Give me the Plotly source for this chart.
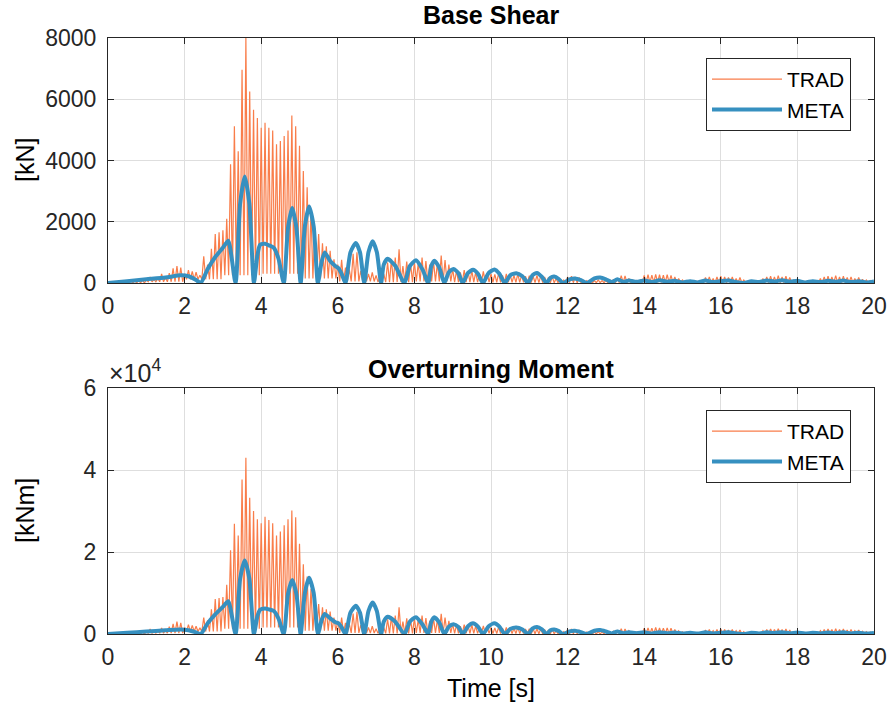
import plotly.graph_objects as go

# ---------------- DATA ----------------
# TRAD: peak values every 0.1 s (t = 0.0 ... 19.9)
bs_trad_peaks = [
    0, 20, 30, 40, 50, 60, 70, 80, 90, 100,
    100, 200, 120, 150, 300, 180, 320, 480, 550, 500,
    300, 420, 380, 350, 250, 870, 600, 1120, 1600, 1660,
    1720, 2100, 3880, 5120, 4300, 6960, 8000, 6250, 5660, 5390,
    5070, 5230, 5070, 4980, 4530, 4640, 4800, 4980, 5470, 5120,
    4480, 3660, 3130, 2400, 1800, 1600, 1300, 1200, 1050, 770,
    600, 760, 500, 450, 950, 1000, 400, 300, 300, 350,
    250, 200, 300, 670, 780, 830, 1100, 550, 700, 650,
    700, 650, 830, 720, 600, 700, 650, 900, 750, 600,
    450, 400, 350, 420, 380, 400, 350, 300, 380, 320,
    300, 280, 320, 250, 300, 280, 250, 300, 260, 220,
    240, 220, 250, 230, 200, 180, 200, 150, 120, 100,
    200, 220, 200, 180, 100, 80, 60, 80, 100, 80,
    80, 100, 120, 150, 240, 230, 150, 100, 80, 100,
    250, 270, 260, 280, 270, 260, 270, 250, 200, 150,
    100, 80, 60, 50, 60, 80, 180, 200, 150, 200,
    220, 200, 180, 200, 150, 180, 100, 60, 50, 40,
    60, 150, 200, 220, 200, 240, 200, 220, 180, 100,
    60, 40, 30, 30, 40, 50, 150, 200, 220, 200,
    240, 200, 220, 180, 200, 150, 180, 120, 100, 80,
]
# TRAD trough level for each second (0..19 s)
bs_trad_troughs = [0, 40, 120, 250, 300, 150, 50, 30, 50, 30,
                   20, 10, 10, 10, 20, 10, 10, 10, 10, 10]

om_trad_peaks = [
    0, 100, 150, 200, 250, 300, 350, 400, 450, 500,
    500, 1200, 600, 800, 1500, 1000, 1800, 2500, 3000, 2700,
    1600, 2300, 2100, 1900, 1500, 4000, 3300, 6000, 8500, 8800,
    9000, 12000, 20400, 26900, 24000, 37700, 43000, 33200, 30000, 28000,
    27000, 28600, 27800, 27000, 24000, 25000, 26500, 28000, 30100, 28500,
    22000, 17000, 14000, 11000, 8000, 7300, 6500, 6000, 5500, 4000,
    3200, 4000, 2700, 2500, 5000, 5400, 2200, 1600, 1600, 1900,
    1300, 1100, 1600, 3600, 4200, 4500, 6500, 3000, 3800, 3500,
    3800, 3500, 4500, 3900, 3200, 3800, 3500, 4900, 4000, 3200,
    2400, 2200, 1900, 2300, 2000, 2200, 1900, 1600, 2000, 1700,
    1600, 1500, 1700, 1400, 1600, 1500, 1400, 1600, 1400, 1200,
    1300, 1200, 1300, 1200, 1100, 1000, 1100, 800, 650, 550,
    1100, 1200, 1100, 1000, 550, 450, 330, 450, 550, 450,
    450, 550, 650, 800, 1300, 1250, 800, 550, 450, 550,
    1400, 1500, 1400, 1600, 1500, 1400, 1500, 1400, 1100, 800,
    550, 450, 330, 280, 330, 450, 1000, 1100, 800, 1100,
    1200, 1100, 1000, 1100, 800, 1000, 550, 330, 280, 220,
    330, 800, 1100, 1200, 1100, 1300, 1100, 1200, 1000, 550,
    330, 220, 170, 170, 220, 280, 800, 1100, 1200, 1100,
    1300, 1100, 1200, 1000, 1100, 800, 1000, 650, 550, 450,
]
om_trad_troughs = [0, 200, 600, 1300, 1600, 800, 250, 150, 250, 150,
                   100, 50, 50, 50, 100, 50, 50, 50, 50, 50]

# META base shear (time, value)
bs_meta_t = [0.0, 0.5, 1.0, 1.5, 1.9, 2.1, 2.3, 2.42, 2.6, 2.8, 3.0, 3.14, 3.33,
             3.45, 3.57, 3.69, 3.81, 3.9, 3.97, 4.1, 4.2, 4.33, 4.45, 4.59,
             4.7, 4.81, 4.92, 5.03, 5.14, 5.25, 5.37, 5.48, 5.58, 5.66, 5.8,
             5.95, 6.02, 6.1, 6.2, 6.33, 6.47, 6.58, 6.69, 6.8, 6.91, 7.02,
             7.13, 7.2, 7.3, 7.5, 7.74, 7.88, 8.04, 8.22, 8.36, 8.44, 8.52,
             8.65, 8.78, 8.9, 9.02, 9.15, 9.26, 9.4, 9.53, 9.66, 9.79, 9.94,
             10.09, 10.22, 10.36, 10.5, 10.66, 10.82, 10.97, 11.08, 11.2,
             11.33, 11.45, 11.55, 11.65, 11.77, 11.88, 12.05, 12.19, 12.35,
             12.5, 12.7, 12.85, 13.0, 13.15, 13.3, 13.45, 13.6, 13.8, 14.0,
             14.2, 14.4, 14.6, 14.8, 15.0, 15.2, 15.4, 15.6, 15.8, 16.0,
             16.2, 16.4, 16.6, 16.8, 17.0, 17.2, 17.4, 17.6, 17.8, 18.0,
             18.2, 18.4, 18.6, 18.8, 19.0, 19.2, 19.4, 19.6, 19.8, 20.0]
bs_meta_v = [0, 60, 120, 180, 250, 220, 100, 0, 450, 850, 1150, 1380, 0,
             2600, 3480, 2600, 0, 900, 1250, 1280, 1230, 1150, 800, 0,
             1800, 2450, 1800, 0, 1850, 2500, 1850, 0, 700, 1000, 720,
             540, 480, 300, 0, 1000, 1310, 1000, 0, 1000, 1360, 1000,
             0, 600, 790, 560, 0, 550, 740, 420, 0, 550, 730,
             500, 0, 350, 460, 320, 0, 330, 430, 300, 0, 330,
             440, 300, 0, 250, 320, 220, 0, 250, 330,
             200, 0, 170, 210, 130, 0, 120, 150, 90,
             0, 150, 180, 120, 30, 120, 40, 80, 40, 80,
             30, 90, 40, 70, 20, 60, 20, 80, 30, 60,
             80, 30, 0, 60, 30, 80, 50, 90, 40, 70,
             20, 60, 30, 70, 40, 80, 30, 60, 20, 50]

# META overturning moment (time, value)
om_meta_t = bs_meta_t
om_meta_v = [0, 300, 600, 900, 1100, 900, 400, 0, 2600, 4800, 6600, 8000, 0,
             13500, 17900, 13500, 0, 4300, 5900, 6200, 6000, 5600, 3800, 0,
             9800, 13200, 9700, 0, 10000, 13700, 10000, 0, 3500, 4900, 3800,
             2800, 2600, 1600, 0, 5200, 6900, 5200, 0, 5600, 7700, 5600,
             0, 3000, 4200, 3000, 0, 3000, 4100, 2200, 0, 3000, 4100,
             2800, 0, 1800, 2400, 1700, 0, 1900, 2600, 1800, 0, 1900,
             2600, 1800, 0, 1200, 1600, 1100, 0, 1300, 1700,
             1100, 0, 900, 1100, 700, 0, 650, 800, 450,
             0, 800, 950, 600, 150, 600, 200, 400, 200, 400,
             150, 450, 200, 350, 100, 300, 100, 400, 150, 300,
             400, 150, 0, 300, 150, 400, 250, 450, 200, 350,
             100, 300, 150, 350, 200, 400, 150, 300, 100, 250]

x_ticks = [0, 2, 4, 6, 8, 10, 12, 14, 16, 18, 20]
bs_ticks = [0, 2000, 4000, 6000, 8000]
om_ticks = [0, 20000, 40000, 60000]
om_tick_text = ["0", "2", "4", "6"]


def interleave(peaks, troughs):
    t, v = [], []
    for i, p in enumerate(peaks):
        t.append(round(i * 0.1, 3))
        v.append(p)
        t.append(round(i * 0.1 + 0.05, 3))
        v.append(min(troughs[i // 10], p) if p > 0 else 0)
    return t, v


bs_t, bs_v = interleave(bs_trad_peaks, bs_trad_troughs)
om_t, om_v = interleave(om_trad_peaks, om_trad_troughs)

# ---------------- STYLE ----------------
ORANGE = "#F97D4A"
BLUE = "#3690C0"
AX = "#262626"
GRID = "#dedede"
FONT = "Liberation Sans, Arial, Helvetica, sans-serif"
W, H = 891, 711

fig = go.Figure()
fig.add_trace(go.Scatter(x=bs_t, y=bs_v, mode="lines", name="TRAD",
                         line=dict(color=ORANGE, width=1.2),
                         xaxis="x", yaxis="y", legend="legend"))
fig.add_trace(go.Scatter(x=bs_meta_t, y=bs_meta_v, mode="lines", name="META",
                         line=dict(color=BLUE, width=4, shape="spline", smoothing=0.6),
                         xaxis="x", yaxis="y", legend="legend"))
fig.add_trace(go.Scatter(x=om_t, y=om_v, mode="lines", name="TRAD",
                         line=dict(color=ORANGE, width=1.2),
                         xaxis="x2", yaxis="y2", legend="legend2"))
fig.add_trace(go.Scatter(x=om_meta_t, y=om_meta_v, mode="lines", name="META",
                         line=dict(color=BLUE, width=4, shape="spline", smoothing=0.6),
                         xaxis="x2", yaxis="y2", legend="legend2"))

xdom = [108 / W, 874 / W]
common = dict(showline=True, linecolor=AX, linewidth=1, mirror="ticks",
              ticks="inside", ticklen=6, tickcolor=AX, tickwidth=1,
              showgrid=True, gridcolor=GRID, gridwidth=1, zeroline=False,
              automargin=False,
              tickfont=dict(family=FONT, size=23, color=AX))

legend_common = dict(xanchor="right", yanchor="top", bgcolor="white",
                     bordercolor=AX, borderwidth=1,
                     font=dict(family=FONT, size=21, color="black"),
                     itemwidth=70, tracegroupgap=0)

fig.update_layout(
    width=W, height=H, autosize=False,
    margin=dict(l=0, r=0, t=0, b=0, pad=0, autoexpand=False),
    paper_bgcolor="white", plot_bgcolor="white",
    xaxis=dict(domain=xdom, anchor="y", range=[0, 20], tickvals=x_ticks,
               ticklabelstandoff=2, **common),
    yaxis=dict(domain=[1 - 283 / H, 1 - 38 / H], anchor="x", range=[0, 8000],
               tickvals=bs_ticks, ticklabelstandoff=6, **common),
    xaxis2=dict(domain=xdom, anchor="y2", range=[0, 20], tickvals=x_ticks,
                ticklabelstandoff=2, **common),
    yaxis2=dict(domain=[1 - 634 / H, 1 - 388 / H], anchor="x2", range=[0, 60000],
                tickvals=om_ticks, ticktext=om_tick_text, ticklabelstandoff=6, **common),
    legend=dict(x=851 / W, y=1 - 58 / H, **legend_common),
    legend2=dict(x=851 / W, y=1 - 410 / H, **legend_common),
    showlegend=True,
)

cx = (108 + 874) / 2 / W
annots = [
    dict(text="<b>Base Shear</b>", x=cx, y=1 - 15 / H, font=dict(size=25)),
    dict(text="<b>Overturning Moment</b>", x=cx, y=1 - 369 / H, font=dict(size=25)),
    dict(text="[kN]", x=25 / W, y=1 - 160 / H, textangle=-90, font=dict(size=25)),
    dict(text="[kNm]", x=25 / W, y=1 - 511 / H, textangle=-90, font=dict(size=25)),
    dict(text="Time [s]", x=cx, y=1 - 688 / H, font=dict(size=25)),
    dict(text="\u00d710<sup>4</sup>", x=107 / W, y=1 - 371 / H, xanchor="left",
         font=dict(size=25, color=AX)),
]
for a in annots:
    a.setdefault("xanchor", "center")
    a.update(xref="paper", yref="paper", yanchor="middle", showarrow=False)
    a["font"] = dict(family=FONT, color=a["font"].get("color", "black"),
                     size=a["font"]["size"])
fig.update_layout(annotations=annots)

fig.write_html("out.html")
